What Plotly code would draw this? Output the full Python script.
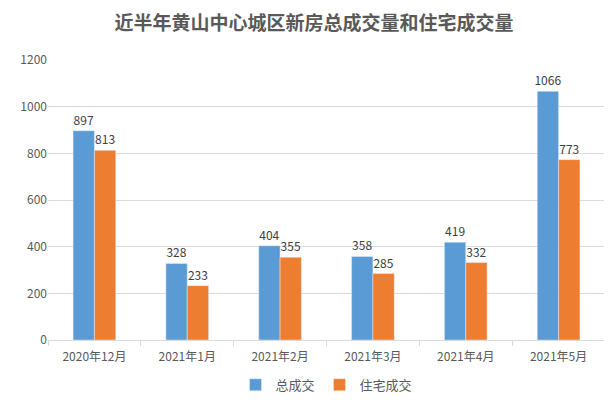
import plotly.graph_objects as go

categories = ["2020年12月", "2021年1月", "2021年2月", "2021年3月", "2021年4月", "2021年5月"]
total_sales = [897, 328, 404, 358, 419, 1066]
residential_sales = [813, 233, 355, 285, 332, 773]

FONT = "Noto Sans CJK SC, Microsoft YaHei, sans-serif"

fig = go.Figure()
fig.add_trace(go.Bar(
    name="总成交", x=categories, y=total_sales, marker_color="#5B9BD5",
    text=total_sales, textposition="outside", cliponaxis=False, constraintext="none",
    textfont=dict(size=12, color="#404040", family=FONT),
))
fig.add_trace(go.Bar(
    name="住宅成交", x=categories, y=residential_sales, marker_color="#ED7D31",
    text=residential_sales, textposition="outside", cliponaxis=False, constraintext="none",
    textfont=dict(size=12, color="#404040", family=FONT),
))

fig.update_layout(
    width=612, height=404,
    barmode="group", bargap=0.54, bargroupgap=0,
    paper_bgcolor="white", plot_bgcolor="white",
    margin=dict(l=38, r=15, t=52, b=64),
    font=dict(family=FONT, size=12, color="#595959"),
    title=dict(text="<b>近半年黄山中心城区新房总成交量和住宅成交量</b>",
               x=0.5, xanchor="center", y=0.962, yanchor="middle",
               font=dict(size=19, color="#595959", family=FONT)),
    legend=dict(orientation="h", x=0.5, xanchor="center", y=-0.16, yanchor="middle",
                font=dict(size=13, color="#595959"), itemwidth=30, traceorder="normal"),
    showlegend=True,
)
fig.update_yaxes(range=[0, 1200], dtick=200, showgrid=True, gridcolor="#D9D9D9",
                 zeroline=False, showline=False, ticks="", tickfont=dict(size=12, color="#595959"))
fig.update_xaxes(showline=True, linecolor="#D9D9D9", ticks="outside", tickson="boundaries",
                 ticklen=5, tickcolor="#D9D9D9", ticklabelstandoff=6,
                 tickfont=dict(size=12, color="#595959"))

fig.write_html("out.html")
